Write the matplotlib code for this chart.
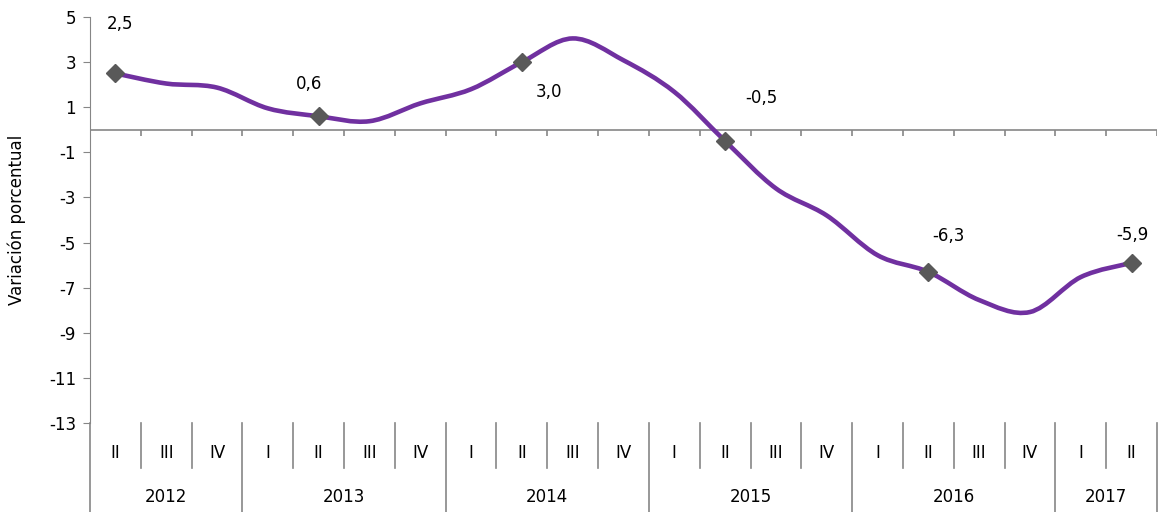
import numpy as np
import matplotlib.pyplot as plt
from matplotlib.path import Path
from matplotlib.patches import PathPatch
from matplotlib.transforms import blended_transform_factory

plt.rcParams['font.family'] = ['Liberation Sans Narrow', 'DejaVu Sans']
plt.rcParams['axes.unicode_minus'] = False

# datos (variación porcentual trimestral)
trimestres = ['II', 'III', 'IV',
              'I', 'II', 'III', 'IV',
              'I', 'II', 'III', 'IV',
              'I', 'II', 'III', 'IV',
              'I', 'II', 'III', 'IV',
              'I', 'II']
anios = ['2012', '2013', '2014', '2015', '2016', '2017']
trim_por_anio = [3, 4, 4, 4, 4, 2]
valores = [2.5, 2.05, 1.87, 0.95, 0.6, 0.38, 1.17, 1.8, 3.0, 4.05, 3.08,
           1.68, -0.5, -2.6, -3.8, -5.56, -6.3, -7.55, -8.08, -6.53, -5.9]
etiquetas = {0: '2,5', 4: '0,6', 8: '3,0', 12: '-0,5', 16: '-6,3', 20: '-5,9'}
desplaz = {0: (5, 49), 4: (-10, 32), 8: (27, -30), 12: (36, 43), 16: (20, 36), 20: (1, 28)}

gris = '#868686'
morado = '#7030A0'

fig = plt.figure(figsize=(11.6, 5.12), dpi=100)
ax = fig.add_axes([90 / 1160, 89 / 512, 1067 / 1160, 406 / 512])

x = np.arange(len(valores))
y = np.array(valores, dtype=float)

# curva suavizada (bezier tipo Excel)
verts = [(x[0], y[0])]
codes = [Path.MOVETO]
n = len(x)
for i in range(n - 1):
    p0 = np.array([x[max(i - 1, 0)], y[max(i - 1, 0)]])
    p1 = np.array([x[i], y[i]])
    p2 = np.array([x[i + 1], y[i + 1]])
    p3 = np.array([x[min(i + 2, n - 1)], y[min(i + 2, n - 1)]])
    c1 = p1 + (p2 - p0) / 6
    c2 = p2 - (p3 - p1) / 6
    verts += [tuple(c1), tuple(c2), tuple(p2)]
    codes += [Path.CURVE4] * 3
ax.add_patch(PathPatch(Path(verts, codes), fill=False, edgecolor=morado, lw=3.3,
                       capstyle='round', joinstyle='round', zorder=3))

idx = sorted(etiquetas)
ax.plot(x[idx], y[idx], linestyle='none', marker='D', ms=9, color='#595959', zorder=4)
for i in idx:
    ax.annotate(etiquetas[i], (x[i], y[i]), xytext=desplaz[i], textcoords='offset pixels',
                ha='center', va='center', fontsize=12, color='black')

ax.set_xlim(-0.5, n - 0.5)
ax.set_ylim(-13, 5)
ax.set_yticks(np.arange(-13, 6, 2))
ax.tick_params(axis='y', direction='out', length=5, color=gris, labelsize=12, pad=5)
ax.set_xticks([])
for s in ['top', 'right', 'bottom']:
    ax.spines[s].set_visible(False)
ax.spines['left'].set_color(gris)
ax.set_ylabel('Variación porcentual', fontsize=12)
ax.yaxis.set_label_coords(-0.06, 0.5)

# eje en cero con marcas
ax.axhline(0, color=gris, lw=1.2, zorder=2)
bordes = np.arange(n + 1) - 0.5
ax.vlines(bordes, -0.27, 0, color=gris, lw=1.2, zorder=2)

# etiquetas de categorías en dos niveles
tr = blended_transform_factory(ax.transData, ax.transAxes)
q_sep = -45 / 406
y_sep = -89 / 406
ax.plot([-0.5, -0.5], [0, y_sep], transform=tr, color=gris, lw=1.2, clip_on=False)
for i, t in enumerate(trimestres):
    ax.text(i, -30 / 406, t, transform=tr, ha='center', va='center', fontsize=12)
inicio = 0
limites_anio = []
for a, k in zip(anios, trim_por_anio):
    fin = inicio + k
    ax.text((inicio + fin - 1) / 2, -74 / 406, a, transform=tr, ha='center', va='center', fontsize=12)
    limites_anio.append(fin - 0.5)
    inicio = fin
for b in bordes[1:]:
    bottom = y_sep if b in limites_anio else q_sep
    ax.plot([b, b], [0, bottom], transform=tr, color=gris, lw=1.2, clip_on=False)

fig.savefig('out.png', dpi=100)
